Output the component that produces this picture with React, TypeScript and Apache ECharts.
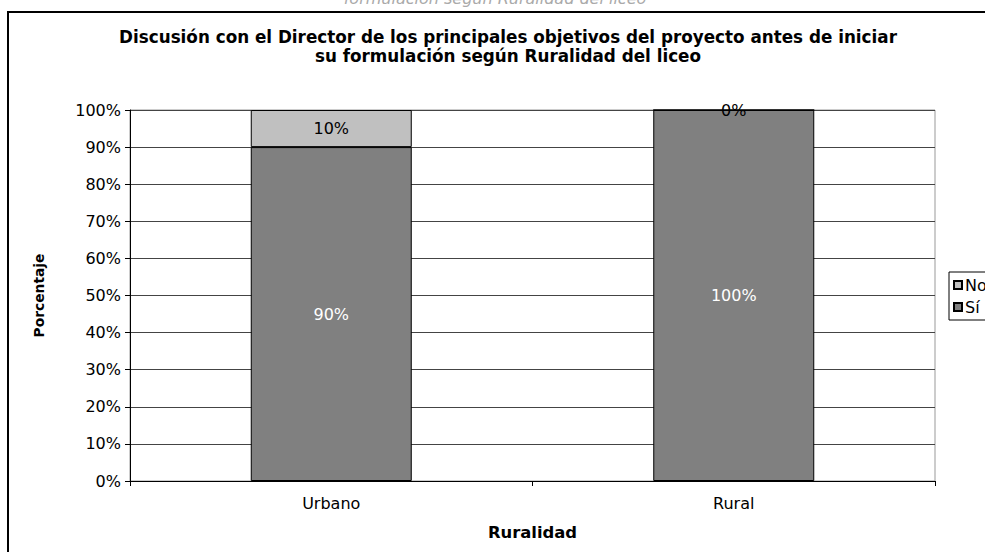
import React, { useEffect, useRef } from "react";
import * as echarts from "echarts";

const categories = ["Urbano", "Rural"];
const siValues = [90, 100];
const noValues = [10, 0];
const titleLines = [
  "Discusión con el Director de los principales objetivos del proyecto antes de iniciar",
  "su formulación según Ruralidad del liceo",
];
const topCutText = "formulación según Ruralidad del liceo";

const FONT = "DejaVu Sans";

export default function App() {
  const ref = useRef<HTMLDivElement>(null);
  useEffect(() => {
    if (!ref.current) return;
    const chart = echarts.init(ref.current, null, { renderer: "svg" });
    chart.setOption({
      animation: false,
      backgroundColor: "#fff",
      textStyle: { fontFamily: FONT },
      graphic: [
        {
          type: "rect",
          shape: { x: 8, y: 12, width: 1100, height: 700 },
          style: { fill: "none", stroke: "#000", lineWidth: 2 },
          silent: true,
          z: -1,
        },
        {
          type: "text",
          x: 495,
          y: 6,
          style: {
            text: topCutText,
            fill: "#aaa",
            font: `italic 16px ${FONT}`,
            textAlign: "center",
            textVerticalAlign: "bottom",
          },
        },
        {
          type: "text",
          x: 508,
          y: 27,
          style: {
            text: titleLines.join("\n"),
            fill: "#000",
            font: `bold 16.8px ${FONT}`,
            lineHeight: 19,
            textAlign: "center",
            textVerticalAlign: "top",
          },
        },
      ],
      grid: {
        left: 130,
        right: 50,
        top: 110,
        bottom: 71,
        show: true,
        borderColor: "#999",
        borderWidth: 1,
      },
      legend: {
        orient: "vertical",
        left: 949,
        top: 272,
        data: [
          { name: "No", icon: "rect" },
          { name: "Sí", icon: "rect" },
        ],
        itemWidth: 8,
        itemHeight: 8,
        itemGap: 6,
        borderColor: "#000",
        borderWidth: 1,
        padding: [5, 8, 5, 4],
        borderRadius: 0,
        textStyle: { fontFamily: FONT, fontSize: 16, color: "#000", padding: [0, 0, 0, -2] },
      },
      xAxis: {
        type: "category",
        data: categories,
        axisLine: { lineStyle: { color: "#000", width: 1 } },
        axisTick: { show: true, length: 5, lineStyle: { color: "#000" } },
        axisLabel: { color: "#000", fontSize: 16, fontFamily: FONT, margin: 14 },
        name: "Ruralidad",
        nameLocation: "middle",
        nameGap: 43,
        nameTextStyle: { fontWeight: "bold", fontSize: 16.4, color: "#000", fontFamily: FONT },
      },
      yAxis: {
        type: "value",
        min: 0,
        max: 100,
        interval: 10,
        axisLine: { show: true, lineStyle: { color: "#000", width: 1 } },
        axisTick: { show: true, length: 5, lineStyle: { color: "#000" } },
        axisLabel: { color: "#000", fontSize: 16, fontFamily: FONT, formatter: "{value}%", margin: 9 },
        splitLine: { show: true, lineStyle: { color: "#444", width: 1 } },
        name: "Porcentaje",
        nameLocation: "middle",
        nameGap: 84,
        nameTextStyle: { fontWeight: "bold", fontSize: 13.8, color: "#000", fontFamily: FONT },
      },
      series: [
        {
          name: "Sí",
          type: "bar",
          stack: "total",
          data: siValues,
          barCategoryGap: "60%",
          itemStyle: { color: "#808080", borderColor: "#000", borderWidth: 1 },
          label: {
            show: true,
            position: "inside",
            formatter: "{c}%",
            color: "#fff",
            fontSize: 16,
            fontFamily: FONT,
          },
        },
        {
          name: "No",
          type: "bar",
          stack: "total",
          data: noValues,
          barCategoryGap: "60%",
          itemStyle: { color: "#c0c0c0", borderColor: "#000", borderWidth: 1 },
          label: {
            show: true,
            position: "inside",
            formatter: "{c}%",
            color: "#000",
            fontSize: 16,
            fontFamily: FONT,
          },
        },
      ],
    });
    return () => chart.dispose();
  }, []);
  return (
    <div
      ref={ref}
      style={{ position: "fixed", left: 0, top: 0, width: 985, height: 552 }}
    />
  );
}
